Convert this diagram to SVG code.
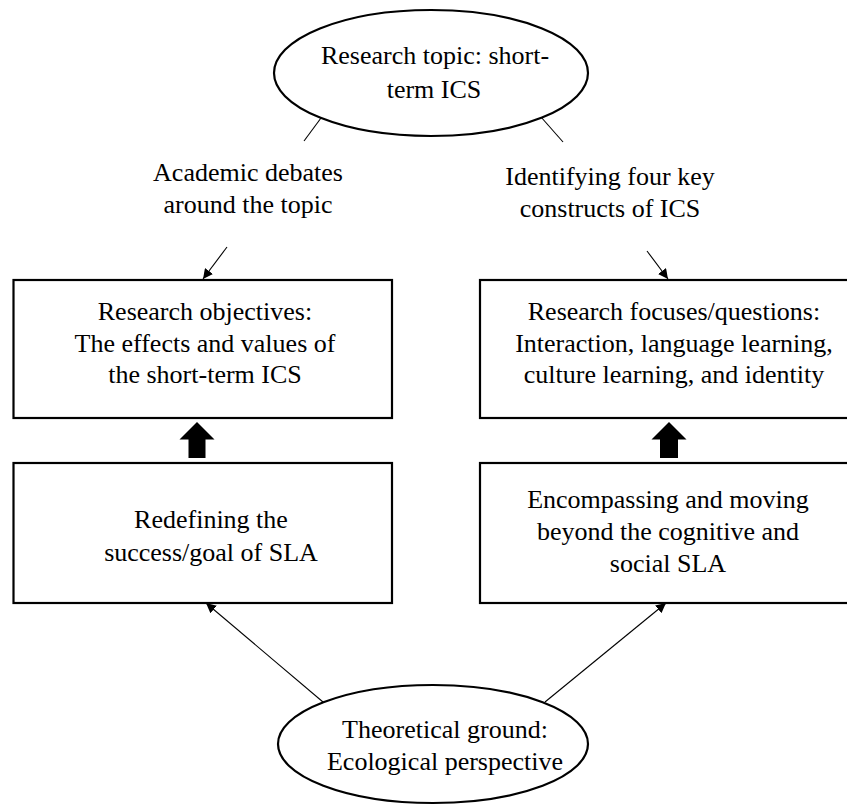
<svg xmlns="http://www.w3.org/2000/svg" width="847" height="805" viewBox="0 0 847 805">
  <style>
    .node { fill: #fff; stroke: #000; stroke-width: 2.2; }
    .txt { font-family: "Liberation Serif", "Times New Roman", serif; font-size: 26px; fill: #000; text-anchor: middle; }
    .link { stroke: #000; stroke-width: 1.1; fill: none; }
    .thick { fill: #000; }
  </style>
  <defs>
    <marker id="arrow" viewBox="0 0 10 10" refX="10" refY="5" markerWidth="10" markerHeight="10" markerUnits="userSpaceOnUse" orient="auto">
      <path d="M0,0 L10,5 L0,10 z" fill="#000"/>
    </marker>
  </defs>
  <rect width="847" height="805" fill="#fff"/>

  <!-- connectors -->
  <g id="connectors">
    <line class="link" x1="321" y1="118" x2="304" y2="141"/>
    <line class="link" x1="541" y1="117" x2="563" y2="142"/>
    <line class="link" x1="227" y1="247" x2="203" y2="279" marker-end="url(#arrow)"/>
    <line class="link" x1="647" y1="251" x2="668" y2="279" marker-end="url(#arrow)"/>
    <line class="link" x1="323" y1="702" x2="206" y2="603" marker-end="url(#arrow)"/>
    <line class="link" x1="545" y1="702" x2="666" y2="603" marker-end="url(#arrow)"/>
    <path class="thick" d="M197,422 L214.5,439.5 L205.5,439.5 L205.5,458 L188.5,458 L188.5,439.5 L179.5,439.5 Z"/>
    <path class="thick" d="M669,422 L686.5,439.5 L678,439.5 L678,458 L660,458 L660,439.5 L651.5,439.5 Z"/>
  </g>

  <g id="topic">
    <ellipse class="node" cx="431" cy="73" rx="157" ry="63"/>
    <text class="txt" x="435" y="64">Research topic: short-</text>
    <text class="txt" x="434" y="98">term ICS</text>
  </g>

  <g id="label-debates">
    <text class="txt" x="248" y="181">Academic debates</text>
    <text class="txt" x="248" y="213">around the topic</text>
  </g>

  <g id="label-constructs">
    <text class="txt" x="610" y="185">Identifying four key</text>
    <text class="txt" x="610" y="217">constructs of ICS</text>
  </g>

  <g id="objectives">
    <rect class="node" x="13.5" y="280" width="378.5" height="138"/>
    <text class="txt" x="205" y="320">Research objectives:</text>
    <text class="txt" x="205" y="352">The effects and values of</text>
    <text class="txt" x="205" y="383">the short-term ICS</text>
  </g>

  <g id="focuses">
    <rect class="node" x="480" y="280" width="388" height="138"/>
    <text class="txt" x="674" y="320">Research focuses/questions:</text>
    <text class="txt" x="674" y="352">Interaction, language learning,</text>
    <text class="txt" x="674" y="383">culture learning, and identity</text>
  </g>

  <g id="redefining">
    <rect class="node" x="13.5" y="463" width="378.5" height="140"/>
    <text class="txt" x="211" y="528">Redefining the</text>
    <text class="txt" x="211" y="561">success/goal of SLA</text>
  </g>

  <g id="encompassing">
    <rect class="node" x="480" y="463" width="388" height="140"/>
    <text class="txt" x="668" y="508">Encompassing and moving</text>
    <text class="txt" x="668" y="540">beyond the cognitive and</text>
    <text class="txt" x="668" y="572">social SLA</text>
  </g>

  <g id="ground">
    <ellipse class="node" cx="433" cy="744" rx="155" ry="59"/>
    <text class="txt" x="445" y="738">Theoretical ground:</text>
    <text class="txt" x="445" y="770">Ecological perspective</text>
  </g>
</svg>
